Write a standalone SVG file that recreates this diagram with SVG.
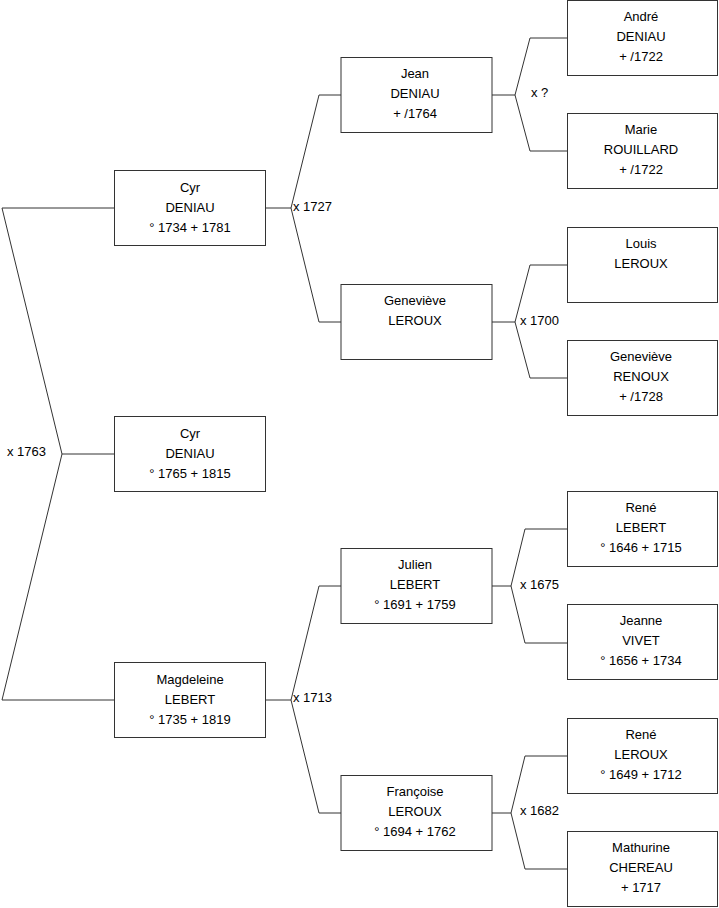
<svg xmlns="http://www.w3.org/2000/svg" width="719" height="908" viewBox="0 0 719 908">
<style>
.box{fill:#fff;stroke:#333;stroke-width:1}
.con{fill:none;stroke:#333;stroke-width:1}
text{font-family:"Liberation Sans",Arial,sans-serif;font-size:13px;fill:#000}
.n{text-anchor:middle}
</style>
<rect width="719" height="908" fill="#fff"/>
<g id="connectors">
<path class="con" d="M114.5 454 H62 M114.5 208 H2 L62 454 L2 700 H114.5"/>
<path class="con" d="M265.5 208 H291 M341 95 H319 L291 208 L319 322 H341"/>
<path class="con" d="M265.5 700 H291 M341 586 H319 L291 700 L319 813 H341"/>
<path class="con" d="M492 95 H515 M567 38 H530 L515 95 L530 151 H567"/>
<path class="con" d="M492 322 H515 M567 265 H530 L515 322 L530 378 H567"/>
<path class="con" d="M492 586 H511 M567 529 H525 L511 586 L525 643 H567"/>
<path class="con" d="M492 813 H511 M567 756 H525 L511 813 L525 869 H567"/>
<text x="7" y="456">x 1763</text>
<text x="293" y="211">x 1727</text>
<text x="293" y="702">x 1713</text>
<text x="531" y="97">x ?</text>
<text x="520" y="325">x 1700</text>
<text x="520" y="589">x 1675</text>
<text x="520" y="815">x 1682</text>
</g>
<g id="n1"><rect class="box" x="114.5" y="416.5" width="151" height="75"/><text class="n" x="190" y="438">Cyr</text><text class="n" x="190" y="458">DENIAU</text><text class="n" x="190" y="478">° 1765 + 1815</text></g>
<g id="n2"><rect class="box" x="114.5" y="170.5" width="151" height="75"/><text class="n" x="190" y="192">Cyr</text><text class="n" x="190" y="212">DENIAU</text><text class="n" x="190" y="232">° 1734 + 1781</text></g>
<g id="n3"><rect class="box" x="114.5" y="662.5" width="151" height="75"/><text class="n" x="190" y="684">Magdeleine</text><text class="n" x="190" y="704">LEBERT</text><text class="n" x="190" y="724">° 1735 + 1819</text></g>
<g id="n4"><rect class="box" x="341" y="57.5" width="151" height="75"/><text class="n" x="415" y="78">Jean</text><text class="n" x="415" y="98">DENIAU</text><text class="n" x="415" y="118">+ /1764</text></g>
<g id="n5"><rect class="box" x="341" y="284.5" width="151" height="75"/><text class="n" x="415" y="305">Geneviève</text><text class="n" x="415" y="325">LEROUX</text></g>
<g id="n6"><rect class="box" x="341" y="548.5" width="151" height="75"/><text class="n" x="415" y="569">Julien</text><text class="n" x="415" y="589">LEBERT</text><text class="n" x="415" y="609">° 1691 + 1759</text></g>
<g id="n7"><rect class="box" x="341" y="775.5" width="151" height="75"/><text class="n" x="415" y="796">Françoise</text><text class="n" x="415" y="816">LEROUX</text><text class="n" x="415" y="836">° 1694 + 1762</text></g>
<g id="n8"><rect class="box" x="567.5" y="0.5" width="150" height="75"/><text class="n" x="641" y="21">André</text><text class="n" x="641" y="41">DENIAU</text><text class="n" x="641" y="61">+ /1722</text></g>
<g id="n9"><rect class="box" x="567.5" y="113.5" width="150" height="75"/><text class="n" x="641" y="134">Marie</text><text class="n" x="641" y="154">ROUILLARD</text><text class="n" x="641" y="174">+ /1722</text></g>
<g id="n10"><rect class="box" x="567.5" y="227.5" width="150" height="75"/><text class="n" x="641" y="248">Louis</text><text class="n" x="641" y="268">LEROUX</text></g>
<g id="n11"><rect class="box" x="567.5" y="340.5" width="150" height="75"/><text class="n" x="641" y="361">Geneviève</text><text class="n" x="641" y="381">RENOUX</text><text class="n" x="641" y="401">+ /1728</text></g>
<g id="n12"><rect class="box" x="567.5" y="491.5" width="150" height="75"/><text class="n" x="641" y="512">René</text><text class="n" x="641" y="532">LEBERT</text><text class="n" x="641" y="552">° 1646 + 1715</text></g>
<g id="n13"><rect class="box" x="567.5" y="604.5" width="150" height="75"/><text class="n" x="641" y="625">Jeanne</text><text class="n" x="641" y="645">VIVET</text><text class="n" x="641" y="665">° 1656 + 1734</text></g>
<g id="n14"><rect class="box" x="567.5" y="718.5" width="150" height="75"/><text class="n" x="641" y="739">René</text><text class="n" x="641" y="759">LEROUX</text><text class="n" x="641" y="779">° 1649 + 1712</text></g>
<g id="n15"><rect class="box" x="567.5" y="831.5" width="150" height="75"/><text class="n" x="641" y="852">Mathurine</text><text class="n" x="641" y="872">CHEREAU</text><text class="n" x="641" y="892">+ 1717</text></g>
</svg>
